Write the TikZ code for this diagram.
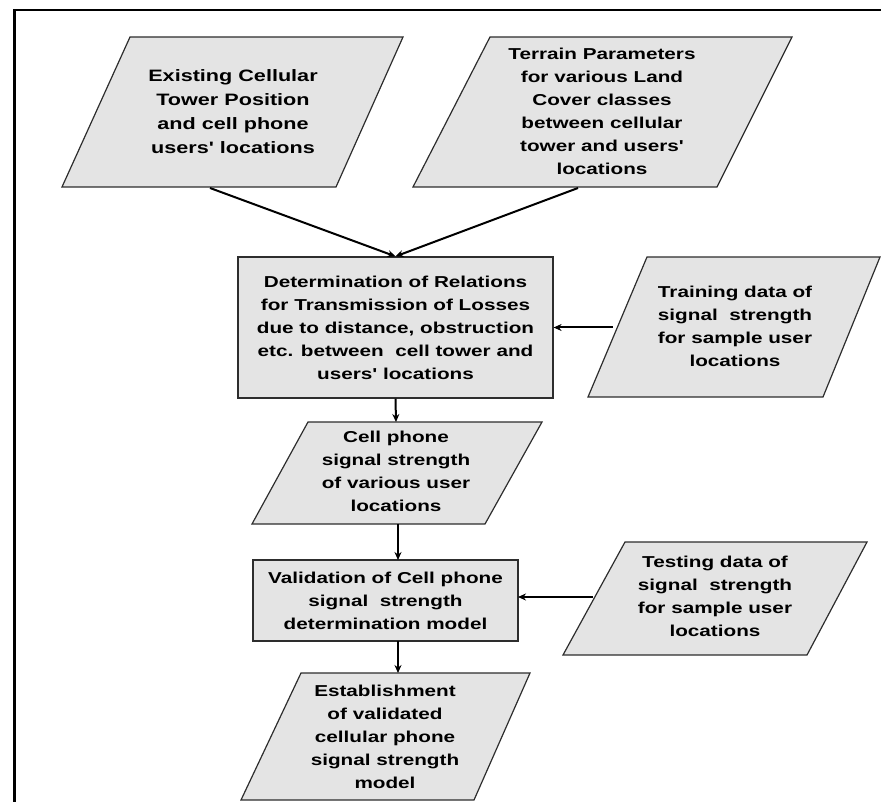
\documentclass[tikz,border=0pt]{standalone}
\usepackage{fontspec}
\newfontfamily\labfont[FakeStretch=1.31,Ligatures=TeXOff]{Liberation Sans}
\usetikzlibrary{arrows.meta,calc}
\definecolor{shapefill}{RGB}{228,228,228}
\definecolor{edgecol}{RGB}{45,45,45}
\begin{document}
\begin{tikzpicture}[x=1pt,y=-1pt,
  shapeline/.style={draw=edgecol, line width=1.2pt, fill=shapefill},
  lbl/.style={align=center, inner sep=0pt, font=\labfont\bfseries\fontsize{15.8}{23}\selectfont},
  biglbl/.style={lbl, font=\labfont\bfseries\fontsize{16.5}{24}\selectfont},
  procbox/.style={shapeline, lbl},
  conn/.style={line width=2pt, -{Stealth[length=8pt,width=7pt]}}]
\useasboundingbox (0,0) rectangle (881,802);
\draw[line width=2.4pt] (881,10) -- (14.5,10) -- (14.5,802);

% input parallelograms
\filldraw[shapeline] (130,37) -- (403,37) -- (336,187) -- (62,187) -- cycle;
\node[biglbl] (p1) at (233,112) {Existing Cellular\\Tower Position\\and cell phone\\users' locations};

\filldraw[shapeline] (490,37) -- (792,37) -- (717,187) -- (413,187) -- cycle;
\node[lbl] (p2) at (602,111.5) {Terrain Parameters\\for various Land\\Cover classes\\between cellular\\tower and users'\\locations};

% process box 1
\node[procbox, minimum width=315pt, minimum height=141pt] (b1) at (395.5,327.5)
  {Determination of Relations\\for Transmission of Losses\\due to distance, obstruction\\etc. between\ \ cell tower and\\users' locations};

% training
\filldraw[shapeline] (647,257) -- (880,257) -- (823,397) -- (588,397) -- cycle;
\node[lbl] (trn) at (735,326.5) {Training data of\\signal\ \ strength\\for sample user\\locations};

% cell phone signal strength
\filldraw[shapeline] (308,422) -- (542,422) -- (485,524) -- (252,524) -- cycle;
\node[lbl] (cps) at (396,471.5) {Cell phone\\signal strength\\of various user\\locations};

% validation
\node[procbox, minimum width=265pt, minimum height=81pt] (val) at (385.5,600.5)
  {Validation of Cell phone\\signal\ \ strength\\determination model};

% testing
\filldraw[shapeline] (625,542) -- (867,542) -- (807,655) -- (563,655) -- cycle;
\node[lbl] (tst) at (715,596.5) {Testing data of\\signal\ \ strength\\for sample user\\locations};

% establishment
\filldraw[shapeline] (301,673) -- (530,673) -- (474,800) -- (241,800) -- cycle;
\node[lbl] (est) at (385,737) {Establishment\\of validated\\cellular phone\\signal strength\\model};

% connector anchor points on the parallelograms
\coordinate (p1out) at (210,188);
\coordinate (p2out) at (578,188);
\coordinate (trnout) at (613,327.5);
\coordinate (cpsin) at (396,422);
\coordinate (cpsout) at (398,524);
\coordinate (valin) at (398,560);
\coordinate (valout) at (398,641);
\coordinate (estin) at (398,673);
\coordinate (tstout) at (593,597);
\coordinate (valright) at (518,597);

\draw[conn] (p1out) -- (b1.north);
\draw[conn] (p2out) -- (b1.north);
\draw[conn] (trnout) -- (b1.east);
\draw[conn] (b1.south) -- (cpsin);
\draw[conn] (cpsout) -- (valin);
\draw[conn] (tstout) -- (valright);
\draw[conn] (valout) -- (estin);
\end{tikzpicture}
\end{document}
